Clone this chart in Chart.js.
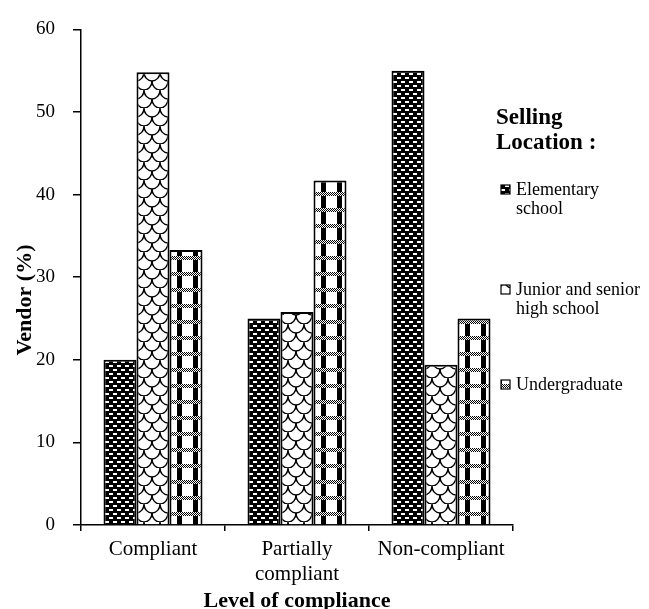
<!DOCTYPE html>
<html><head><meta charset="utf-8">
<script src="https://cdn.jsdelivr.net/npm/chart.js@4/dist/chart.umd.min.js"></script>
<style>html,body{margin:0;padding:0;background:#fff;}#wrap{width:649px;height:609px;position:relative;}</style>
</head><body><div id="wrap"><canvas id="c" width="649" height="609"></canvas></div>
<script>
const categories = ['Compliant', ['Partially', 'compliant'], 'Non-compliant'];
const seriesNames = ['Elementary school', 'Junior and senior high school', 'Undergraduate'];
const elementary = [20, 25, 55];
const juniorSenior = [54.8, 25.8, 19.4];
const undergraduate = [33.3, 41.7, 25];
const yTickValues = [0, 10, 20, 30, 40, 50, 60];
const legendTitle = ['Selling', 'Location :'];
const legendLabels = [['Elementary', 'school'], ['Junior and senior', 'high school'], ['Undergraduate']];
const xTitle = 'Level of compliance';
const yTitle = 'Vendor (%)';

const SERIF = '"Liberation Serif", "Times New Roman", serif';

function tile(w, h, draw) {
  const c = document.createElement('canvas');
  c.width = w; c.height = h;
  const x = c.getContext('2d');
  draw(x);
  return document.createElement('canvas').getContext('2d').createPattern(c, 'repeat');
}
const patElem = tile(8, 8, x => {
  x.fillStyle = '#000'; x.fillRect(0, 0, 8, 8);
  x.fillStyle = '#fff';
  x.fillRect(1, 1, 4, 2);
  x.fillRect(5, 5, 3, 2); x.fillRect(0, 5, 1, 2);
});
const patJun = tile(16, 18, x => {
  x.fillStyle = '#fff'; x.fillRect(0, 0, 16, 18);
  x.strokeStyle = '#000'; x.lineWidth = 1.4;
  x.beginPath(); x.ellipse(8, 0, 8, 9, 0, 0, Math.PI); x.stroke();
  x.beginPath(); x.ellipse(0, 9, 8, 9, 0, 0, Math.PI); x.stroke();
  x.beginPath(); x.ellipse(16, 9, 8, 9, 0, 0, Math.PI); x.stroke();
  x.beginPath(); x.ellipse(8, 18, 8, 9, 0, 0, Math.PI); x.stroke();
});
const patUnd = tile(16, 16, x => {
  x.fillStyle = '#fff'; x.fillRect(0, 0, 16, 16);
  x.fillStyle = '#000'; x.fillRect(1, 0, 5, 16);
  for (let yy = 0; yy < 4; yy++) for (let xx = 0; xx < 16; xx++) {
    x.fillStyle = ((xx + yy) % 2 === 0) ? '#000' : '#fff';
    x.fillRect(xx, yy, 1, 1);
  }
});
const patterns = [patElem, patJun, patUnd];
const seriesData = [elementary, juniorSenior, undergraduate];

const decor = {
  id: 'decor',
  afterDraw(chart) {
    const ctx = chart.ctx;
    ctx.save();
    ctx.fillStyle = '#000';
    ctx.font = 'bold 23px ' + SERIF;
    ctx.textAlign = 'left'; ctx.textBaseline = 'middle';
    legendTitle.forEach((t, i) => ctx.fillText(t, 496, 118 + i * 25));
    const itemY = [190, 290, 385];
    ctx.font = '18px ' + SERIF;
    legendLabels.forEach((lines, i) => {
      ctx.fillStyle = patterns[i];
      ctx.fillRect(501, itemY[i] - 5, 9, 9);
      ctx.strokeStyle = '#000'; ctx.lineWidth = 1.2;
      ctx.strokeRect(501, itemY[i] - 5, 9, 9);
      ctx.fillStyle = '#000';
      lines.forEach((l, j) => ctx.fillText(l, 516, itemY[i] + j * 19));
    });
    ctx.font = 'bold 22px ' + SERIF;
    ctx.textAlign = 'center';
    ctx.fillText(xTitle, (chart.chartArea.left + chart.chartArea.right) / 2, 601);
    ctx.translate(25, 300); ctx.rotate(-Math.PI / 2);
    ctx.fillText(yTitle, 0, 0);
    ctx.restore();
  }
};

new Chart(document.getElementById('c'), {
  type: 'bar',
  data: {
    labels: categories,
    datasets: seriesNames.map((n, i) => ({
      label: n, data: seriesData[i], backgroundColor: patterns[i],
      borderColor: '#000', borderWidth: 2,
      categoryPercentage: 0.6875, barPercentage: 1.0
    }))
  },
  options: {
    responsive: false, animation: false, devicePixelRatio: 1,
    layout: { padding: { left: 0, top: 19, right: 136, bottom: 0 } },
    plugins: { legend: { display: false }, tooltip: { enabled: false } },
    scales: {
      x: {
        grid: { display: true, drawOnChartArea: false, drawTicks: true, tickLength: 6, color: '#000', lineWidth: 1.5, offset: true },
        border: { display: true, color: '#000', width: 1.5 },
        ticks: { color: '#000', font: { family: SERIF, size: 21, lineHeight: 1.2 }, padding: 6, maxRotation: 0, autoSkip: false },
        afterFit: s => { s.height = 84; }
      },
      y: {
        min: 0, max: 60,
        afterBuildTicks: s => { s.ticks = yTickValues.map(v => ({ value: v })); },
        grid: { display: true, drawOnChartArea: false, drawTicks: true, tickLength: 8, color: '#000', lineWidth: 1.5 },
        border: { display: true, color: '#000', width: 1.5 },
        ticks: { color: '#000', font: { family: SERIF, size: 19 }, padding: 18 },
        afterFit: s => { s.width = 81; }
      }
    }
  },
  plugins: [decor]
});
</script></body></html>
